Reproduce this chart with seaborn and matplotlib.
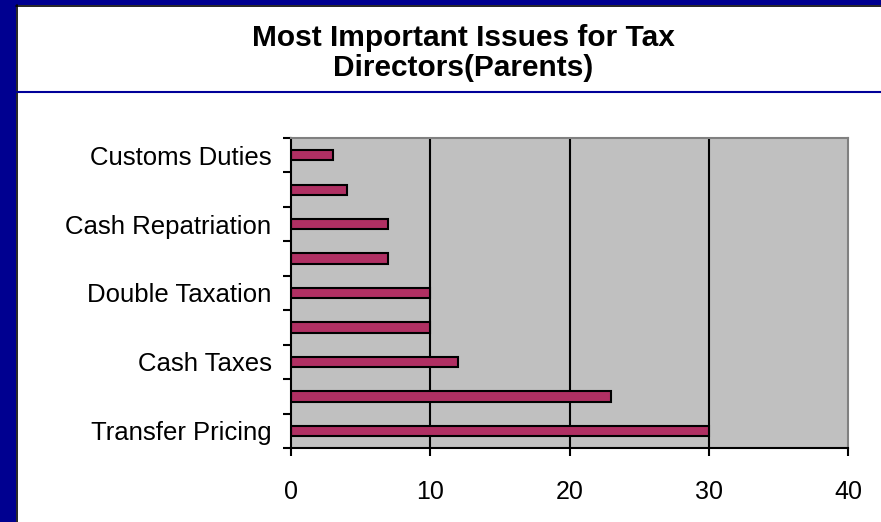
import matplotlib
matplotlib.use("Agg")
import matplotlib.pyplot as plt
import seaborn as sns
import pandas as pd
from matplotlib.patches import Rectangle
from matplotlib.lines import Line2D

# ---- data (top to bottom) ----
issues = ["Customs Duties", "Issue 8", "Cash Repatriation", "Issue 6",
          "Double Taxation", "Issue 4", "Cash Taxes", "Issue 2", "Transfer Pricing"]
values = [3, 4, 7, 7, 10, 10, 12, 23, 30]
tick_labels = ["Customs Duties", "", "Cash Repatriation", "",
               "Double Taxation", "", "Cash Taxes", "", "Transfer Pricing"]
x_ticks = [0, 10, 20, 30, 40]
title = "Most Important Issues for Tax\nDirectors(Parents)"

df = pd.DataFrame({"issue": issues, "value": values})

sns.set_theme(style="white")
plt.rcParams["font.family"] = ["Liberation Sans", "DejaVu Sans"]
plt.rcParams["text.color"] = "black"
plt.rcParams["xtick.color"] = "black"
plt.rcParams["ytick.color"] = "black"

fig = plt.figure(figsize=(8.81, 5.22), dpi=100)
fig.patch.set_facecolor("white")

W, H = 881, 522
# slide background strips
fig.add_artist(Rectangle((0, 0), 16 / W, 1, transform=fig.transFigure,
                         facecolor="#000090", edgecolor="none", zorder=0))
fig.add_artist(Rectangle((0, 1 - 5 / H), 1, 5 / H, transform=fig.transFigure,
                         facecolor="#000090", edgecolor="none", zorder=0))
# panel border
fig.add_artist(Line2D([16.5 / W, 16.5 / W], [0, 1 - 5 / H], transform=fig.transFigure,
                      color="black", lw=1.2))
fig.add_artist(Line2D([16 / W, 1], [1 - 5.5 / H, 1 - 5.5 / H], transform=fig.transFigure,
                      color="black", lw=1.2))
# separator line under title
fig.add_artist(Line2D([17 / W, 1], [1 - 92 / H, 1 - 92 / H], transform=fig.transFigure,
                      color="#000099", lw=1.5))

fig.text(463 / W, 1 - 53 / H, title, ha="center", va="center", multialignment="center",
         fontsize=21.5, fontweight="bold", color="black", linespacing=1.07)

ax = fig.add_axes([291 / W, 1 - 448 / H, (848 - 291) / W, (448 - 138) / H])
ax.set_facecolor("#C0C0C0")

sns.barplot(data=df, x="value", y="issue", order=issues, orient="h",
            color="#B03063", width=0.3, edgecolor="black", linewidth=1.5,
            saturation=1, ax=ax, zorder=3)

ax.set_xlim(0, 40)
ax.set_ylim(len(issues) - 0.5, -0.5)
ax.set_xticks(x_ticks)
ax.set_xticklabels([str(t) for t in x_ticks], fontsize=18)
ax.set_yticks([i - 0.5 for i in range(len(issues) + 1)])
ax.set_yticklabels([])
ax.set_yticks(range(len(issues)), minor=True)
ax.set_yticklabels(tick_labels, minor=True, fontsize=18.5)
ax.tick_params(axis="y", which="minor", length=0, pad=14, labelcolor="black")
ax.tick_params(axis="y", which="major", length=6, width=1.5, direction="out", left=True,
               color="black")
ax.tick_params(axis="x", which="major", length=6, width=1.5, direction="out", bottom=True,
               color="black", pad=17, labelcolor="black")
ax.set_xlabel("")
ax.set_ylabel("")

for xv in x_ticks[1:-1]:
    ax.axvline(xv, color="black", lw=1.5, zorder=2)

ax.spines["left"].set_color("black")
ax.spines["left"].set_linewidth(1.5)
ax.spines["bottom"].set_color("black")
ax.spines["bottom"].set_linewidth(1.5)
ax.spines["top"].set_color("#808080")
ax.spines["top"].set_linewidth(1.5)
ax.spines["right"].set_color("#808080")
ax.spines["right"].set_linewidth(1.5)
for s in ax.spines.values():
    s.set_zorder(4)

fig.savefig("out.png", dpi=100)
